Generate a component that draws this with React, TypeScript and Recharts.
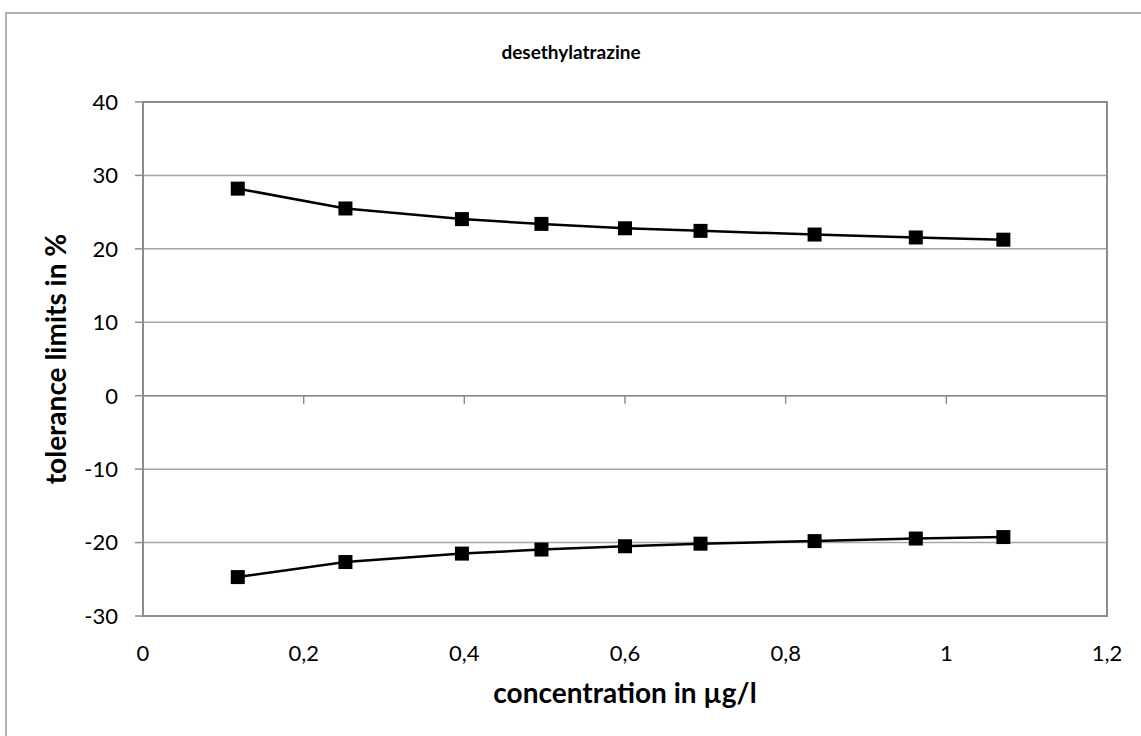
import { LineChart, Line, XAxis, YAxis, CartesianGrid, ReferenceLine, ReferenceArea } from 'recharts';

// values
const concentration = [0.118, 0.252, 0.397, 0.496, 0.6, 0.694, 0.836, 0.962, 1.071];
const upperLimit = [28.2, 25.5, 24.05, 23.4, 22.8, 22.45, 21.95, 21.55, 21.25];
const lowerLimit = [-24.7, -22.65, -21.5, -20.95, -20.5, -20.15, -19.8, -19.45, -19.25];

const xTicks = [0, 0.2, 0.4, 0.6, 0.8, 1, 1.2];
const yTicks = [-30, -20, -10, 0, 10, 20, 30, 40];

const data = concentration.map((x, i) => ({ x, upper: upperLimit[i], lower: lowerLimit[i] }));

const FONT = 'Lato, "Open Sans", sans-serif';
const axisGray = '#8c8c8c';
const gridGray = '#a6a6a6';

function renderSquare(props: any) {
  const { cx, cy, index, dataKey } = props;
  if (cx == null || cy == null) return null;
  return <rect key={`${dataKey}-${index}`} x={cx - 7} y={cy - 7} width={14} height={14} fill="#000" />;
}

export default function App() {
  return (
    <div style={{ position: 'absolute', left: 0, top: 0, width: 1141, height: 736, background: '#fff', overflow: 'hidden', fontFamily: FONT }}>
      {/* outer chart border */}
      <div style={{ position: 'absolute', left: 5, top: 12, width: 1160, height: 760, border: '2px solid #b0b0b0' }} />

      <LineChart
        width={1141}
        height={736}
        data={data}
        margin={{ top: 102, right: 34, bottom: 0, left: 0 }}
        style={{ position: 'absolute', left: 0, top: 0 }}
      >
        <CartesianGrid vertical={false} stroke={gridGray} strokeWidth={1.5} />
        <XAxis
          type="number"
          dataKey="x"
          domain={[0, 1.2]}
          ticks={xTicks}
          interval={0}
          axisLine={false}
          tickLine={false}
          tickSize={0}
          tickMargin={29}
          height={120}
          tickFormatter={(v: number) => String(v).replace('.', ',')}
          tick={{ fill: '#000', fontSize: 22, fontFamily: FONT }}
        />
        <YAxis
          type="number"
          domain={[-30, 40]}
          ticks={yTicks}
          interval={0}
          width={143}
          tickSize={8}
          tickMargin={17}
          axisLine={{ stroke: axisGray, strokeWidth: 2 }}
          tickLine={{ stroke: axisGray, strokeWidth: 1.5 }}
          tick={{ fill: '#000', fontSize: 22, fontFamily: FONT }}
        />
        <ReferenceArea x1={0} x2={1.2} y1={-30} y2={40} fill="none" stroke={axisGray} strokeWidth={2} ifOverflow="visible" />
        <ReferenceLine y={0} stroke={axisGray} strokeWidth={1.5} />
        {xTicks.slice(1, -1).map((t) => (
          <ReferenceLine
            key={t}
            segment={[{ x: t, y: 0 }, { x: t, y: -1.1 }]}
            stroke={axisGray}
            strokeWidth={1.5}
            ifOverflow="visible"
          />
        ))}
        <Line type="linear" dataKey="upper" stroke="#000" strokeWidth={2.5} dot={renderSquare} isAnimationActive={false} />
        <Line type="linear" dataKey="lower" stroke="#000" strokeWidth={2.5} dot={renderSquare} isAnimationActive={false} />
      </LineChart>

      <div style={{ position: 'absolute', left: 0, top: 38, width: 1142, lineHeight: '28px', textAlign: 'center', fontSize: 19, fontWeight: 700 }}>
        desethylatrazine
      </div>
      <div style={{ position: 'absolute', left: 0, top: 675, width: 1250, lineHeight: '34px', textAlign: 'center', fontSize: 28, fontWeight: 700 }}>
        concentration in µg/l
      </div>
      <div
        style={{
          position: 'absolute',
          left: -145,
          top: 342,
          width: 400,
          lineHeight: '34px',
          textAlign: 'center',
          fontSize: 28,
          fontWeight: 700,
          transform: 'rotate(-90deg)',
        }}
      >
        tolerance limits in %
      </div>
    </div>
  );
}
